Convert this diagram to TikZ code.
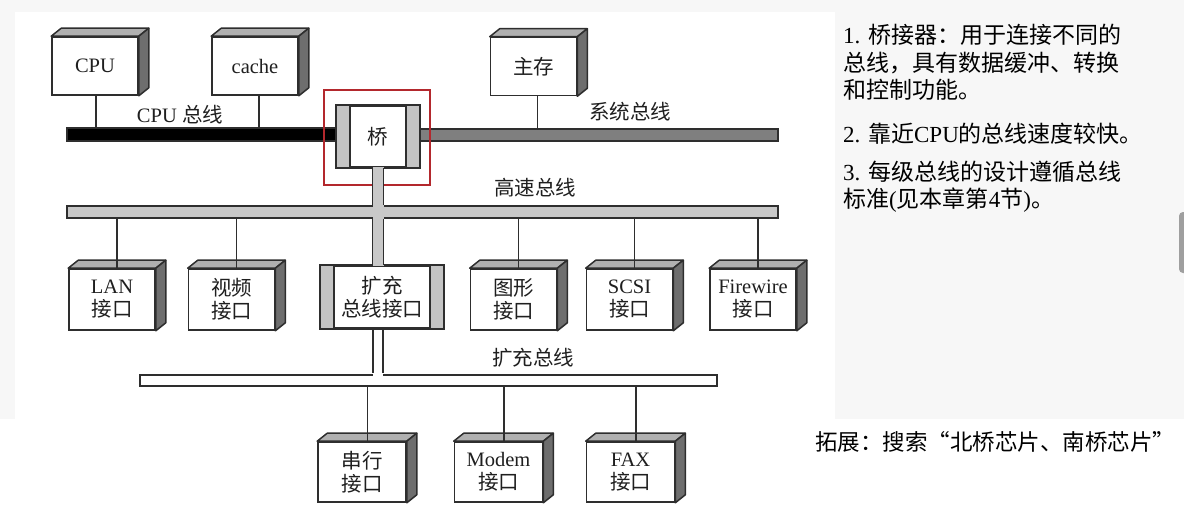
\documentclass[tikz,border=0pt]{standalone}
\usepackage{fontspec}
\setmainfont{Liberation Serif}
\newfontfamily\cjk{Noto Sans CJK SC}
\newcommand\zh[1]{{\cjk #1}}
\definecolor{edge}{HTML}{2E2E2E}
\definecolor{topc}{HTML}{B0B0B0}
\definecolor{sidec}{HTML}{6E6E6E}
\definecolor{stripc}{HTML}{C4C4C4}
\definecolor{hsc}{HTML}{C8C8C8}
\definecolor{sysc}{HTML}{7F7F7F}
\definecolor{redbox}{HTML}{B3282D}
\definecolor{pagegray}{HTML}{F7F7F7}
\newcommand\faces[1]{%
  \filldraw[face, fill=topc] (#1.north west) -- ++(10,-8) -- ([shift={(10,-8)}]#1.north east) -- (#1.north east) -- cycle;
  \filldraw[face, fill=sidec] (#1.north east) -- ++(10,-8) -- ([shift={(10,-8)}]#1.south east) -- (#1.south east) -- cycle;}
\newcommand\strips[1]{%
  \fill[stripc] (#1.north west) rectangle ([xshift=14pt]#1.south west);
  \fill[stripc] ([xshift=-14pt]#1.north east) rectangle (#1.south east);
  \draw[face] ([xshift=14pt]#1.north west) -- ([xshift=14pt]#1.south west)
              ([xshift=-14pt]#1.north east) -- ([xshift=-14pt]#1.south east);
  \draw[face, line join=miter] (#1.north west) rectangle (#1.south east);}
\begin{document}
\begin{tikzpicture}[x=1pt,y=-1pt,
  face/.style={draw=edge, line width=1.5pt, line join=round},
  dev/.style={draw=edge, line width=1.6pt, fill=white, minimum width=86pt, minimum height=58pt,
    inner sep=0pt, align=center, text=black!88, font=\fontsize{20.5}{23}\selectfont},
  bus/.style={draw=edge, line width=1.5pt, inner sep=0pt, minimum height=12pt},
  wire/.style={draw=edge, line width=1.6pt},
  lbl/.style={inner sep=0pt, text=black!88, font=\fontsize{20.5}{23}\selectfont},
  note/.style={inner sep=0pt, anchor=west, align=left, text=black, font=\fontsize{23}{27.5}\selectfont}]
\useasboundingbox (0,0) rectangle (1184,509);
\fill[white] (0,0) rectangle (1184,509);
\fill[pagegray] (0,0) rectangle (1184,419);
\fill[white] (15,12) rectangle (835,509);
\fill[gray!75, rounded corners=4pt] (1179,212) rectangle (1192,273);

% buses
\node[bus, fill=black, minimum width=270pt, minimum height=13pt] (cpubus) at (202,134.5) {};
\node[bus, fill=sysc, minimum width=359pt] (sysbus) at (598.5,135) {};
\node[bus, fill=hsc, minimum width=711pt] (hsbus) at (422.5,212) {};
\node[bus, fill=white, minimum width=577pt, minimum height=11pt] (expbus) at (428.5,380.5) {};

% top devices
\node[dev] (cpu) at (95,66) {CPU};
\node[dev] (cache) at (255,66) {cache};
\node[dev] (mem) at (533.5,66.5) {\zh{主存}};
\foreach \n in {cpu,cache,mem} {\faces{\n}}

% bridge
\node[dev, minimum width=82pt, minimum height=61pt] (bridge) at (378,136.5) {\zh{桥}};
\strips{bridge}
\draw[redbox, line width=2.4pt] ([shift={(-12,-15)}]bridge.north west) rectangle ([shift={(10,17)}]bridge.south east);

% second row devices
\node[dev, minimum height=61pt] (lan) at (112,299.5) {LAN\\\zh{接口}};
\node[dev, minimum height=61pt] (vid) at (231.5,299.5) {\zh{视频}\\\zh{接口}};
\node[dev, minimum height=61pt] (gfx) at (513.5,299.5) {\zh{图形}\\\zh{接口}};
\node[dev, minimum height=61pt] (scsi) at (629.5,299.5) {SCSI\\\zh{接口}};
\node[dev, minimum height=61pt] (fw) at (753,299.5) {Firewire\\\zh{接口}};
\foreach \n in {lan,vid,gfx,scsi,fw} {\faces{\n}}

% expansion interface
\node[dev, minimum width=122pt, minimum height=62pt] (expif) at (382,297) {\zh{扩充}\\\zh{总线接口}};
\strips{expif}

% vertical gray bar bridge -> expansion interface
\coordinate (bl) at ([xshift=-5.5pt]bridge.south);
\coordinate (br) at ([xshift=5.5pt]bridge.south);
\fill[hsc] ([yshift=0.8pt]bl) rectangle ([yshift=-0.8pt]br |- expif.north);
\draw[wire] (bl) -- (bl |- hsbus.north) (bl |- hsbus.south) -- (bl |- expif.north);
\draw[wire] (br) -- (br |- hsbus.north) (br |- hsbus.south) -- (br |- expif.north);

% expansion interface -> expansion bus
\coordinate (el) at ([xshift=-9pt]expif.south);
\coordinate (er) at ([xshift=1pt]expif.south);
\fill[white] ([yshift=-1.5pt]el |- expbus.north) rectangle ([yshift=2pt]er |- expbus.north);
\draw[wire] (el) -- ([yshift=0.8pt]el |- expbus.north) (er) -- ([yshift=0.8pt]er |- expbus.north);

% bottom devices
\node[dev, minimum width=88pt, minimum height=60pt] (ser) at (362,472) {\zh{串行}\\\zh{接口}};
\node[dev, minimum width=88pt, minimum height=60pt] (modem) at (498.5,472) {Modem\\\zh{接口}};
\node[dev, minimum width=88pt, minimum height=60pt] (fax) at (630.5,472) {FAX\\\zh{接口}};
\foreach \n in {ser,modem,fax} {\faces{\n}}

% connectors
\draw[wire] ([xshift=1pt]cpu.south) -- ([xshift=1pt]cpu.south |- cpubus.north);
\draw[wire] ([xshift=4pt]cache.south) -- ([xshift=4pt]cache.south |- cpubus.north);
\draw[wire] ([xshift=4pt]mem.south) -- ([xshift=4pt]mem.south |- sysbus.north);
\foreach \n in {lan,vid,gfx,scsi,fw} {
  \draw[wire] ([xshift=5pt]\n.north) -- ([xshift=5pt]\n.north |- hsbus.south);}
\foreach \n in {ser,modem,fax} {
  \draw[wire] ([xshift=5.5pt]\n.north) -- ([xshift=5.5pt]\n.north |- expbus.south);}

% bus labels
\node[lbl] (lcpu) at (180,115) {CPU \zh{总线}};
\node[lbl] (lsys) at (630,112) {\zh{系统总线}};
\node[lbl] (lhs) at (535,188) {\zh{高速总线}};
\node[lbl] (lexp) at (533,358) {\zh{扩充总线}};

% notes
\node[note] (n1) at (843,62.5) {1. \zh{桥接器：用于连接不同的}\\\zh{总线，具有数据缓冲、转换}\\\zh{和控制功能。}};
\node[note] (n2) at (843,134) {2. \zh{靠近}CPU\zh{的总线速度较快。}};
\node[note] (n3) at (843,186.5) {3. \zh{每级总线的设计遵循总线}\\\zh{标准}(\zh{见本章第}4\zh{节})\zh{。}};
\node[note, font=\fontsize{22.5}{26}\selectfont] (n4) at (815,442) {\zh{拓展：搜索“北桥芯片、南桥芯片”}};
\end{tikzpicture}
\end{document}
